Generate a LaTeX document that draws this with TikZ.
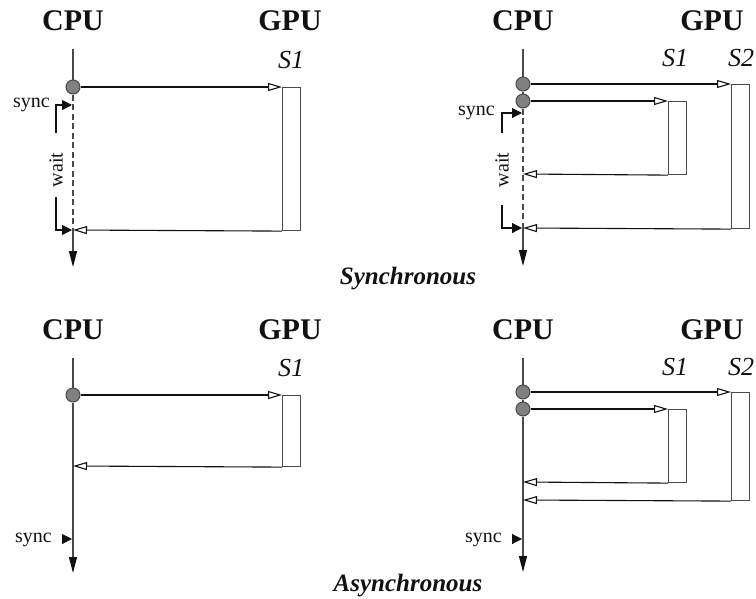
\documentclass[tikz,border=0pt]{standalone}
\usepackage{fontspec}
\setmainfont{Liberation Serif}
\usetikzlibrary{arrows.meta,positioning}
\definecolor{seqInk}{HTML}{111111}
\definecolor{seqLine}{HTML}{4A4A4A}
\definecolor{seqDot}{HTML}{808080}
\tikzset{
  every picture/.style={text=seqInk},
  lane title/.style={font=\fontsize{30}{34}\selectfont\bfseries, anchor=base, inner sep=0pt},
  stream label/.style={font=\fontsize{26}{30}\selectfont\itshape, anchor=base, inner sep=0pt},
  mode title/.style={font=\fontsize{25}{29}\selectfont\bfseries\itshape, anchor=base, inner sep=0pt},
  side label/.style={font=\fontsize{20}{24}\selectfont, inner sep=0pt},
  call dot/.style={circle, fill=seqDot, draw=seqLine, line width=1pt,
    minimum size=14pt, inner sep=0pt},
  kernel box/.style={draw=seqLine, line width=1.1pt, minimum width=18pt,
    inner sep=0pt, anchor=north west},
  cpu line/.style={draw=seqLine, line width=1.2pt},
  cpu wait/.style={cpu line, dash pattern=on 6pt off 3.5pt},
  cpu end/.style={cpu line, -{Triangle[length=16pt,width=8pt,color=seqInk]}},
  launch/.style={draw=seqInk, line width=1.1pt, -{Triangle[open,length=14pt,width=8pt]}},
  sync tip/.style={draw=seqInk, line width=1.1pt, -{Triangle[length=10pt,width=10pt]}}
}

\begin{document}
\begin{tikzpicture}[x=1pt,y=-1pt]
  \useasboundingbox (0,0) rectangle (756,598);

  % synchronous, one stream
  \begin{scope}
    \node[lane title] (sa-cpu) at (73,30) {CPU};
    \node[lane title] (sa-gpu) at (290,30) {GPU};
    \node[stream label] (sa-s1) at (291,68) {S1};
    \coordinate (sa-top) at (73,49);
    \coordinate (sa-ret1) at (73,230);
    \coordinate (sa-end) at (73,267);
    \node[call dot] (sa-c1) at (73,87) {};
    \node[kernel box, minimum height=143pt] (sa-k1) at (282,87) {};
    \draw[cpu line] (sa-top) -- (sa-c1);
    \draw[cpu wait] (sa-c1) -- (sa-ret1);
    \draw[cpu end] (sa-ret1) -- (sa-end);
    \draw[launch] (sa-c1) -- (sa-k1.north west);
    \draw[launch] (sa-k1.south west) -- (sa-ret1);
    \coordinate (sa-sync) at (72,105);
    \coordinate (sa-done) at (72,230);
    \coordinate (sa-w1) at (56,133);
    \coordinate (sa-w2) at (56,197);
    \node[side label, anchor=east] (sa-synctxt) at (50,105) {sync};
    \node[side label, rotate=90] (sa-wait) at (56,170) {wait};
    \draw[sync tip] (sa-w1) |- (sa-sync);
    \draw[sync tip] (sa-w2) |- (sa-done);
  \end{scope}

  % synchronous, two streams
  \begin{scope}[shift={(450,0)}]
    \node[lane title] (sb-cpu) at (73,30) {CPU};
    \node[lane title] (sb-gpu) at (262,30) {GPU};
    \node[stream label] (sb-s1) at (225,66) {S1};
    \node[stream label] (sb-s2) at (291,66) {S2};
    \coordinate (sb-top) at (73,49);
    \coordinate (sb-ret1) at (73,174);
    \coordinate (sb-ret2) at (73,228);
    \coordinate (sb-end) at (73,266);
    \node[call dot] (sb-c1) at (73,84) {};
    \node[call dot] (sb-c2) at (73,101) {};
    \node[kernel box, minimum height=144pt] (sb-k2) at (281,84) {};
    \node[kernel box, minimum height=73pt] (sb-k1) at (218,101) {};
    \draw[cpu line] (sb-top) -- (sb-c1);
    \draw[cpu line] (sb-c1) -- (sb-c2);
    \draw[cpu wait] (sb-c2) -- (sb-ret2);
    \draw[cpu end] (sb-ret2) -- (sb-end);
    \draw[launch] (sb-c1) -- (sb-k2.north west);
    \draw[launch] (sb-c2) -- (sb-k1.north west);
    \draw[launch] (sb-k1.south west) -- (sb-ret1);
    \draw[launch] (sb-k2.south west) -- (sb-ret2);
    \coordinate (sb-sync) at (72,113);
    \coordinate (sb-done) at (72,228);
    \coordinate (sb-w1) at (52,133);
    \coordinate (sb-w2) at (52,205);
    \node[side label, anchor=east] (sb-synctxt) at (45,113) {sync};
    \node[side label, rotate=90] (sb-wait) at (52,170) {wait};
    \draw[sync tip] (sb-w1) |- (sb-sync);
    \draw[sync tip] (sb-w2) |- (sb-done);
  \end{scope}

  \node[mode title] (sync-title) at (408,284) {Synchronous};

  % asynchronous, one stream
  \begin{scope}[shift={(0,309)}]
    \node[lane title] (aa-cpu) at (73,30) {CPU};
    \node[lane title] (aa-gpu) at (290,30) {GPU};
    \node[stream label] (aa-s1) at (291,67) {S1};
    \coordinate (aa-top) at (73,49);
    \coordinate (aa-ret1) at (73,157);
    \coordinate (aa-end) at (73,264);
    \node[call dot] (aa-c1) at (73,86) {};
    \node[kernel box, minimum height=71pt] (aa-k1) at (282,86) {};
    \draw[cpu line] (aa-top) -- (aa-c1);
    \draw[cpu end] (aa-c1) -- (aa-end);
    \draw[launch] (aa-c1) -- (aa-k1.north west);
    \draw[launch] (aa-k1.south west) -- (aa-ret1);
    \coordinate (aa-sync) at (72,230);
    \coordinate (aa-from) at (62,230);
    \node[side label, anchor=east] (aa-synctxt) at (52,231) {sync};
    \draw[sync tip] (aa-from) -- (aa-sync);
  \end{scope}

  % asynchronous, two streams
  \begin{scope}[shift={(450,309)}]
    \node[lane title] (ab-cpu) at (73,30) {CPU};
    \node[lane title] (ab-gpu) at (262,30) {GPU};
    \node[stream label] (ab-s1) at (225,66) {S1};
    \node[stream label] (ab-s2) at (291,66) {S2};
    \coordinate (ab-top) at (73,49);
    \coordinate (ab-ret1) at (73,173);
    \coordinate (ab-ret2) at (73,191);
    \coordinate (ab-end) at (73,263);
    \node[call dot] (ab-c1) at (73,83) {};
    \node[call dot] (ab-c2) at (73,100) {};
    \node[kernel box, minimum height=108pt] (ab-k2) at (281,83) {};
    \node[kernel box, minimum height=73pt] (ab-k1) at (218,100) {};
    \draw[cpu line] (ab-top) -- (ab-c1);
    \draw[cpu line] (ab-c1) -- (ab-c2);
    \draw[cpu end] (ab-c2) -- (ab-end);
    \draw[launch] (ab-c1) -- (ab-k2.north west);
    \draw[launch] (ab-c2) -- (ab-k1.north west);
    \draw[launch] (ab-k1.south west) -- (ab-ret1);
    \draw[launch] (ab-k2.south west) -- (ab-ret2);
    \coordinate (ab-sync) at (72,230);
    \coordinate (ab-from) at (62,230);
    \node[side label, anchor=east] (ab-synctxt) at (52,231) {sync};
    \draw[sync tip] (ab-from) -- (ab-sync);
  \end{scope}

  \node[mode title] (async-title) at (408,591) {Asynchronous};
\end{tikzpicture}
\end{document}
